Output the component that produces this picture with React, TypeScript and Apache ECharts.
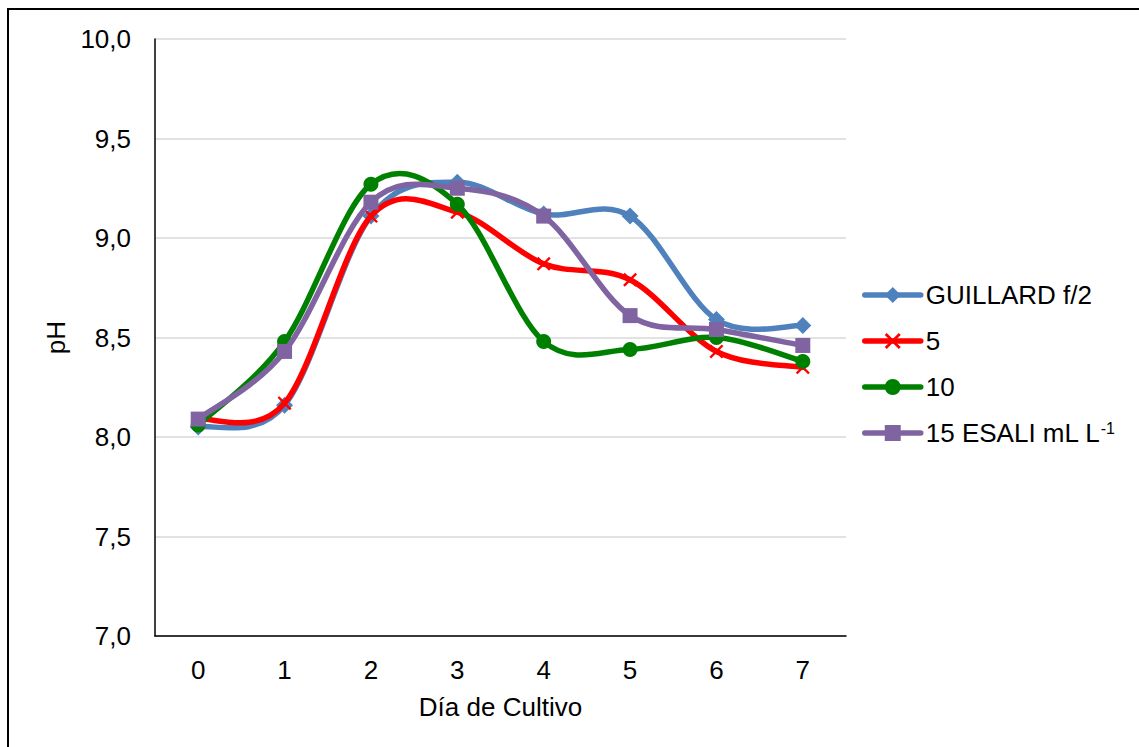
import React, { useEffect, useRef } from "react";
import * as echarts from "echarts";

const days = ["0", "1", "2", "3", "4", "5", "6", "7"];
const guillard = [8.05, 8.16, 9.11, 9.28, 9.12, 9.11, 8.59, 8.56];
const esali5 = [8.09, 8.17, 9.11, 9.13, 8.87, 8.79, 8.43, 8.35];
const esali10 = [8.06, 8.48, 9.27, 9.17, 8.48, 8.44, 8.5, 8.38];
const esali15 = [8.09, 8.43, 9.18, 9.25, 9.11, 8.61, 8.54, 8.46];
const seriesNames = ["GUILLARD f/2", "5", "10", "15 ESALI mL L-1"];
const yTicks = { min: 7, max: 10, interval: 0.5 };

const xPath =
  "path://M0,1.2 L1.2,0 L5,3.8 L8.8,0 L10,1.2 L6.2,5 L10,8.8 L8.8,10 L5,6.2 L1.2,10 L0,8.8 L3.8,5 Z";

const colors = ["#4F81BD", "#FF0000", "#008000", "#8064A2"];
const symbols = ["diamond", xPath, "circle", "rect"];
const symbolSizes = [17, 14, 15, 15];
const allData = [guillard, esali5, esali10, esali15];

function curveSeries(values: number[], color: string, z: number, key: string) {
  const n = values.length;
  return {
    name: key,
    type: "custom",
    z,
    silent: true,
    coordinateSystem: "cartesian2d",
    data: values.map((v, i) => [i, v]),
    renderItem: (params: any, api: any) => {
      const i = params.dataIndex;
      if (i >= n - 1) return null;
      const pt = (k: number) => {
        const kk = Math.max(0, Math.min(n - 1, k));
        return api.coord([kk, values[kk]]);
      };
      const p0 = pt(i - 1);
      const p1 = pt(i);
      const p2 = pt(i + 1);
      const p3 = pt(i + 2);
      return {
        type: "bezierCurve",
        shape: {
          x1: p1[0],
          y1: p1[1],
          x2: p2[0],
          y2: p2[1],
          cpx1: p1[0] + (p2[0] - p0[0]) / 6,
          cpy1: p1[1] + (p2[1] - p0[1]) / 6,
          cpx2: p2[0] - (p3[0] - p1[0]) / 6,
          cpy2: p2[1] - (p3[1] - p1[1]) / 6,
        },
        style: { stroke: color, lineWidth: 5.5, fill: "none", lineCap: "round" },
      };
    },
  };
}

export default function App() {
  const ref = useRef<HTMLDivElement>(null);
  useEffect(() => {
    const chart = echarts.init(ref.current!, null, { renderer: "svg" });
    const font = "'Liberation Sans', Arial, sans-serif";
    const series: any[] = [];
    allData.forEach((vals, k) => {
      series.push(curveSeries(vals, colors[k], 2 + k * 2, "curve" + k));
      series.push({
        name: seriesNames[k],
        type: "line",
        z: 3 + k * 2,
        data: vals,
        symbol: symbols[k],
        symbolSize: symbolSizes[k],
        showAllSymbol: true,
        lineStyle: { color: colors[k], width: 5.5, opacity: 0 },
        itemStyle: { color: colors[k], opacity: 1 },
      });
    });
    chart.setOption({
      animation: false,
      textStyle: { fontFamily: font },
      graphic: [
        {
          type: "rect",
          shape: { x: 8, y: 9, width: 1300, height: 900 },
          style: { fill: "none", stroke: "#000", lineWidth: 2 },
          silent: true,
        },
      ],
      grid: { left: 155, right: 293, top: 39, bottom: 111, containLabel: false },
      legend: {
        orient: "vertical",
        left: 862,
        top: 282,
        padding: 0,
        itemWidth: 56,
        itemHeight: 20,
        itemGap: 20,
        data: seriesNames,
        lineStyle: { width: 5.5, opacity: 1, cap: "round" },
        textStyle: {
          fontFamily: font,
          fontSize: 26,
          color: "#000",
          lineHeight: 26,
          rich: {
            sup: {
              fontSize: 16,
              verticalAlign: "top",
              padding: [0, 0, 12, 0],
              color: "#000",
              fontFamily: font,
            },
          },
        },
        formatter: (n: string) => (n === "15 ESALI mL L-1" ? "15 ESALI mL L{sup|-1}" : n),
      },
      xAxis: {
        type: "category",
        data: days,
        boundaryGap: true,
        name: "Día de Cultivo",
        nameLocation: "middle",
        nameGap: 58,
        nameTextStyle: { fontSize: 26, color: "#000", fontFamily: font },
        axisLine: { lineStyle: { color: "#000", width: 1.5 } },
        axisTick: { show: false },
        axisLabel: { fontSize: 26, color: "#000", margin: 21, fontFamily: font },
      },
      yAxis: {
        type: "value",
        min: yTicks.min,
        max: yTicks.max,
        interval: yTicks.interval,
        name: "pH",
        nameLocation: "middle",
        nameGap: 77,
        nameTextStyle: { fontSize: 26, color: "#000", fontFamily: font },
        axisLine: { show: true, lineStyle: { color: "#000", width: 1.5 } },
        axisTick: { show: false },
        splitLine: { lineStyle: { color: "#d9d9d9", width: 1.5 } },
        axisLabel: {
          fontSize: 26,
          color: "#000",
          margin: 24,
          fontFamily: font,
          formatter: (v: number) => v.toFixed(1).replace(".", ","),
        },
      },
      series,
    });
    return () => chart.dispose();
  }, []);
  return (
    <div
      ref={ref}
      style={{ position: "absolute", left: 0, top: 0, width: 1139, height: 747, background: "#fff" }}
    />
  );
}
